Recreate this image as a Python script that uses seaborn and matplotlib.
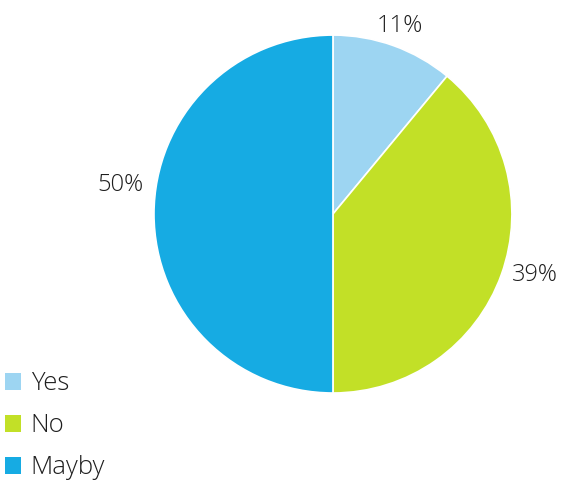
import matplotlib
matplotlib.use("Agg")
import matplotlib.pyplot as plt
from matplotlib.patches import Patch
from matplotlib.font_manager import FontProperties
import seaborn as sns

categories = ["Yes", "No", "Mayby"]
shares = [11, 39, 50]
colors = ["#9dd5f2", "#c2e027", "#16abe3"]

sns.set_theme(style="white")
plt.rcParams["font.family"] = ["Open Sans", "DejaVu Sans"]

fig = plt.figure(figsize=(5.61, 4.82), dpi=100)
ax = fig.add_axes([0.2745, 0.1846, 0.638, 0.7427])

palette = sns.color_palette(colors)
ax.pie(shares, colors=palette, startangle=90, counterclock=False,
       wedgeprops=dict(edgecolor="white", linewidth=1.2), radius=1.0)
ax.set_xlim(-1, 1)
ax.set_ylim(-1, 1)
ax.set_aspect("equal")
ax.axis("off")

# percentage labels placed outside the slices
label_pos = [(0.374, 1.05), (1.128, -0.341), (-1.19, 0.162)]
for val, (x, y) in zip(shares, label_pos):
    ax.text(x, y, f"{val}%", ha="center", va="center", fontsize=17,
            color="#1e1e1e", fontweight="light", clip_on=False)

handles = [Patch(facecolor=c, edgecolor="none") for c in palette]
legend_font = FontProperties(family=["Open Sans", "DejaVu Sans"],
                             weight="light", size=18.5)
fig.legend(handles, categories, loc="lower left", bbox_to_anchor=(0.0, -0.007),
           frameon=False, prop=legend_font, handlelength=0.62,
           handleheight=0.62, handletextpad=0.38, labelspacing=0.66,
           borderaxespad=0.0, borderpad=0.2, labelcolor="#1e1e1e")

fig.savefig("out.png", dpi=100)
